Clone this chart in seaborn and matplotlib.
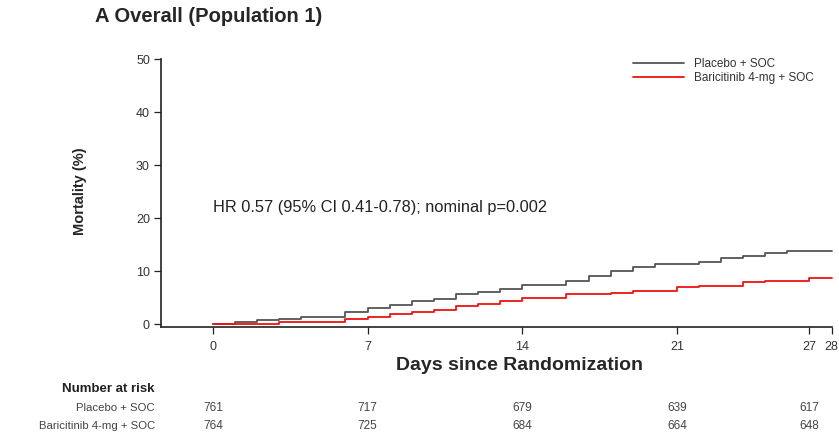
import matplotlib
matplotlib.use('Agg')
import matplotlib.pyplot as plt
import matplotlib.transforms as mtransforms
import seaborn as sns
import pandas as pd

# 数据
placebo_days = [0, 1, 2, 3, 4, 6, 7, 8, 9, 10, 11, 12, 13, 14, 16, 17, 18, 19, 20, 22, 23, 24, 25, 26, 28]
placebo_mort = [0, 0.3, 0.8, 0.9, 1.3, 2.2, 3.1, 3.6, 4.4, 4.8, 5.7, 6.0, 6.6, 7.3, 8.1, 9.1, 10.1, 10.75,
                11.4, 11.8, 12.4, 12.8, 13.5, 13.8, 13.8]
bari_days = [0, 2, 3, 6, 7, 8, 9, 10, 11, 12, 13, 14, 16, 18, 19, 21, 22, 24, 25, 27, 28]
bari_mort = [0, 0.1, 0.4, 0.9, 1.3, 1.9, 2.2, 2.7, 3.4, 3.8, 4.4, 5.0, 5.6, 5.8, 6.25, 6.9, 7.25, 7.9,
             8.1, 8.6, 8.6]

group_names = ['Placebo + SOC', 'Baricitinib 4-mg + SOC']
group_colors = ['#555555', '#ee1111']

risk_days = [0, 7, 14, 21, 27]
risk_placebo = [761, 717, 679, 639, 617]
risk_bari = [764, 725, 684, 664, 648]

x_ticks = [0, 7, 14, 21, 27, 28]
y_ticks = [0, 10, 20, 30, 40, 50]

title = 'A Overall (Population 1)'
hr_text = 'HR 0.57 (95% CI 0.41-0.78); nominal p=0.002'

sns.set_theme(style='ticks')
plt.rcParams['font.family'] = ['Liberation Sans', 'DejaVu Sans']

df = pd.concat([
    pd.DataFrame({'day': placebo_days, 'mort': placebo_mort, 'group': group_names[0]}),
    pd.DataFrame({'day': bari_days, 'mort': bari_mort, 'group': group_names[1]}),
])

fig = plt.figure(figsize=(8.39, 4.34), dpi=100)
ax = fig.add_axes([0.1919, 0.2472, 0.8045, 0.629])

sns.lineplot(data=df, x='day', y='mort', hue='group', hue_order=group_names,
             palette=group_colors, estimator=None, drawstyle='steps-post',
             linewidth=1.3, ax=ax)

ax.set_xlim(-2.35, 28.2)
ax.set_ylim(-0.5, 51)
ax.set_xticks(x_ticks)
ax.set_xticklabels([str(t) for t in x_ticks])
ax.set_yticks(y_ticks)
ax.set_xlabel('')
ax.set_ylabel('')
ax.tick_params(labelsize=9, labelcolor='#333333', width=0.9, color='#222222')
ax.tick_params(axis='x', length=5, pad=5)
ax.tick_params(axis='y', length=5, pad=3)
for s in ['top', 'right']:
    ax.spines[s].set_visible(False)
ax.spines['left'].set_bounds(-0.5, 50)
ax.spines['bottom'].set_bounds(-2.35, 28)
for s in ['left', 'bottom']:
    ax.spines[s].set_linewidth(1.2)
    ax.spines[s].set_color('#222222')

leg = ax.legend(loc='upper left', bbox_to_anchor=(0.693, 1.0), frameon=False,
                fontsize=8.5, handlelength=4.3, handletextpad=0.8,
                labelspacing=0.15, borderaxespad=0)
for t in leg.get_texts():
    t.set_color('#333333')

ax.text(0, 22, hr_text, fontsize=11.8, va='center', ha='left', color='#222222')

fig.text(95 / 839, 1 - 16 / 434, title, fontsize=14.5, fontweight='bold', va='center', ha='left')
fig.text(80 / 839, 1 - 191 / 434, 'Mortality (%)', fontsize=10.5, fontweight='bold',
         rotation=90, va='center', ha='center')
fig.text(519 / 839, 1 - 366 / 434, 'Days since Randomization', fontsize=14, fontweight='bold',
         va='center', ha='center')

# 风险人数表
trans = mtransforms.blended_transform_factory(ax.transData, fig.transFigure)
fig.text(155 / 839, 1 - 389 / 434, 'Number at risk', fontsize=9.5, fontweight='bold',
         ha='right', va='center', color='#222222')
row_y = [1 - 408 / 434, 1 - 426 / 434]
for name, vals, yy in zip(group_names, [risk_placebo, risk_bari], row_y):
    fig.text(155 / 839, yy, name, fontsize=8.2, ha='right', va='center', color='#444444')
    for d, v in zip(risk_days, vals):
        ax.text(d, yy, str(v), transform=trans, fontsize=8.5, ha='center', va='center',
                color='#444444', clip_on=False)

plt.savefig('out.png', dpi=100)
plt.close()
